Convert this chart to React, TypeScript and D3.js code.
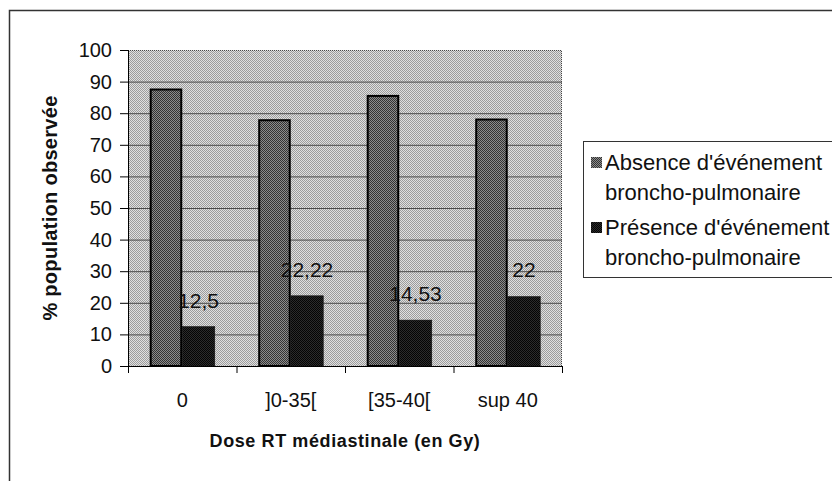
import { useRef, useEffect } from 'react'
import * as d3 from 'd3'

const categories = ['0', ']0-35[', '[35-40[', 'sup 40']
const seriesNames = ['absence', 'presence']
const absenceValues = [87.5, 77.78, 85.47, 78]
const presenceValues = [12.5, 22.22, 14.53, 22]
const presenceLabels = ['12,5', '22,22', '14,53', '22']
const yTicks = [0, 10, 20, 30, 40, 50, 60, 70, 80, 90, 100]
const legendLines = [
  ["Absence d'événement", 'broncho-pulmonaire'],
  ["Présence d'événement", 'broncho-pulmonaire'],
]

const FONT = '"Liberation Sans", Arial, Helvetica, sans-serif'

export default function App() {
  const svgRef = useRef<SVGSVGElement>(null)

  useEffect(() => {
    if (!svgRef.current) return
    const svg = d3.select(svgRef.current)
    svg.selectAll('*').remove()

    const W = 832
    const H = 481
    const plot = { left: 128, right: 562, top: 50, bottom: 366 }

    svg.attr('width', W).attr('height', H)

    // patterns imitating the printed dither
    const defs = svg.append('defs')
    const checker = (id: string, a: string, b: string) => {
      const p = defs
        .append('pattern')
        .attr('id', id)
        .attr('width', 2)
        .attr('height', 2)
        .attr('patternUnits', 'userSpaceOnUse')
      p.append('rect').attr('width', 2).attr('height', 2).attr('fill', a)
      p.append('rect').attr('width', 1).attr('height', 1).attr('fill', b)
      p.append('rect').attr('x', 1).attr('y', 1).attr('width', 1).attr('height', 1).attr('fill', b)
    }
    checker('bgPat', '#e0e0e0', '#9c9c9c')
    checker('absPat', '#8c8c8c', '#333333')
    checker('presPat', '#2c2c2c', '#050505')

    // outer frame
    svg
      .append('rect')
      .attr('x', 9.5)
      .attr('y', 10.5)
      .attr('width', W + 20)
      .attr('height', H + 20)
      .attr('fill', 'white')
      .attr('stroke', '#333')
      .attr('stroke-width', 1.5)

    // Scales
    const x = d3
      .scaleBand()
      .domain(categories)
      .range([plot.left, plot.right])
      .paddingInner(0.4)
      .paddingOuter(0.2)
    const xs = d3.scaleBand().domain(seriesNames).range([0, x.bandwidth()])
    const y = d3.scaleLinear().domain([0, 100]).range([plot.bottom, plot.top])

    const step = x.step()

    // plot background
    svg
      .append('rect')
      .attr('x', plot.left)
      .attr('y', plot.top)
      .attr('width', plot.right - plot.left)
      .attr('height', plot.bottom - plot.top)
      .attr('fill', 'url(#bgPat)')

    // gridlines
    svg
      .append('g')
      .selectAll('line')
      .data(yTicks.filter((t) => t > 0 && t < 100))
      .join('line')
      .attr('x1', plot.left)
      .attr('x2', plot.right)
      .attr('y1', (d) => y(d) + 0.5)
      .attr('y2', (d) => y(d) + 0.5)
      .attr('stroke', '#4a4a4a')
      .attr('stroke-width', 1)

    // top / right plot border (dotted)
    svg
      .append('path')
      .attr('d', `M${plot.left},${plot.top + 0.5}H${plot.right - 0.5}V${plot.bottom}`)
      .attr('fill', 'none')
      .attr('stroke', '#444')
      .attr('stroke-dasharray', '1,1')

    // bars
    const rows = categories.map((c, i) => ({
      cat: c,
      absence: absenceValues[i],
      presence: presenceValues[i],
      label: presenceLabels[i],
    }))

    svg
      .append('g')
      .selectAll('rect')
      .data(rows)
      .join('rect')
      .attr('x', (d) => x(d.cat)! + xs('absence')! + 1)
      .attr('y', (d) => y(d.absence))
      .attr('width', xs.bandwidth() - 2)
      .attr('height', (d) => y(0) - y(d.absence))
      .attr('fill', 'url(#absPat)')
      .attr('stroke', '#000')
      .attr('stroke-width', 2)

    svg
      .append('g')
      .selectAll('rect')
      .data(rows)
      .join('rect')
      .attr('x', (d) => x(d.cat)! + xs('presence')!)
      .attr('y', (d) => y(d.presence))
      .attr('width', xs.bandwidth())
      .attr('height', (d) => y(0) - y(d.presence))
      .attr('fill', 'url(#presPat)')
      .attr('stroke', '#111')
      .attr('stroke-width', 0.5)

    // value labels on presence bars
    svg
      .append('g')
      .selectAll('text')
      .data(rows)
      .join('text')
      .attr('x', (d) => x(d.cat)! + xs('presence')! + xs.bandwidth() / 2)
      .attr('y', (d) => y(d.presence) - 19)
      .attr('text-anchor', 'middle')
      .attr('font-family', FONT)
      .attr('font-size', 21)
      .attr('fill', '#111')
      .text((d) => d.label)

    // Y axis
    const yAxis = svg.append('g')
    yAxis
      .append('line')
      .attr('x1', plot.left + 0.5)
      .attr('x2', plot.left + 0.5)
      .attr('y1', plot.top)
      .attr('y2', plot.bottom)
      .attr('stroke', '#000')
    yAxis
      .selectAll('line.tick')
      .data(yTicks)
      .join('line')
      .attr('class', 'tick')
      .attr('x1', plot.left - 8)
      .attr('x2', plot.left)
      .attr('y1', (d) => y(d) + 0.5)
      .attr('y2', (d) => y(d) + 0.5)
      .attr('stroke', '#000')
    yAxis
      .selectAll('text')
      .data(yTicks)
      .join('text')
      .attr('x', 112)
      .attr('y', (d) => y(d) + 7)
      .attr('text-anchor', 'end')
      .attr('font-family', FONT)
      .attr('font-size', 20)
      .attr('fill', '#111')
      .text((d) => d)

    // X axis
    const xAxis = svg.append('g')
    xAxis
      .append('line')
      .attr('x1', plot.left)
      .attr('x2', plot.right)
      .attr('y1', plot.bottom + 0.5)
      .attr('y2', plot.bottom + 0.5)
      .attr('stroke', '#000')
    xAxis
      .selectAll('line.tick')
      .data(d3.range(categories.length + 1))
      .join('line')
      .attr('class', 'tick')
      .attr('x1', (i) => plot.left + i * step + 0.5)
      .attr('x2', (i) => plot.left + i * step + 0.5)
      .attr('y1', plot.bottom)
      .attr('y2', plot.bottom + 7)
      .attr('stroke', '#000')
    xAxis
      .selectAll('text')
      .data(categories)
      .join('text')
      .attr('x', (d) => x(d)! + x.bandwidth() / 2)
      .attr('y', 407)
      .attr('text-anchor', 'middle')
      .attr('font-family', FONT)
      .attr('font-size', 20)
      .attr('fill', '#111')
      .text((d) => d)

    // axis titles
    svg
      .append('text')
      .attr('x', (plot.left + plot.right) / 2)
      .attr('y', 447)
      .attr('text-anchor', 'middle')
      .attr('font-family', FONT)
      .attr('font-size', 18)
      .attr('font-weight', 'bold')
      .attr('letter-spacing', 0.6)
      .attr('fill', '#111')
      .text('Dose RT médiastinale (en Gy)')

    svg
      .append('text')
      .attr('transform', `translate(57,${(plot.top + plot.bottom) / 2}) rotate(-90)`)
      .attr('text-anchor', 'middle')
      .attr('font-family', FONT)
      .attr('font-size', 20)
      .attr('font-weight', 'bold')
      .attr('letter-spacing', 0.3)
      .attr('fill', '#111')
      .text('% population observée')

    // legend
    const legend = svg.append('g')
    legend
      .append('rect')
      .attr('x', 583.5)
      .attr('y', 141.5)
      .attr('width', 300)
      .attr('height', 136)
      .attr('fill', 'white')
      .attr('stroke', '#333')
    const pats = ['url(#absPat)', 'url(#presPat)']
    legendLines.forEach((lines, i) => {
      const top = 170 + i * 65
      legend
        .append('rect')
        .attr('x', 591)
        .attr('y', top - 13)
        .attr('width', 11)
        .attr('height', 11)
        .attr('fill', pats[i])
      lines.forEach((t, j) => {
        legend
          .append('text')
          .attr('x', 605)
          .attr('y', top + j * 30)
          .attr('font-family', FONT)
          .attr('font-size', 22)
          .attr('fill', '#111')
          .text(t)
      })
    })
  }, [])

  return (
    <div style={{ position: 'absolute', left: 0, top: 0 }}>
      <svg ref={svgRef} style={{ display: 'block' }} />
    </div>
  )
}
